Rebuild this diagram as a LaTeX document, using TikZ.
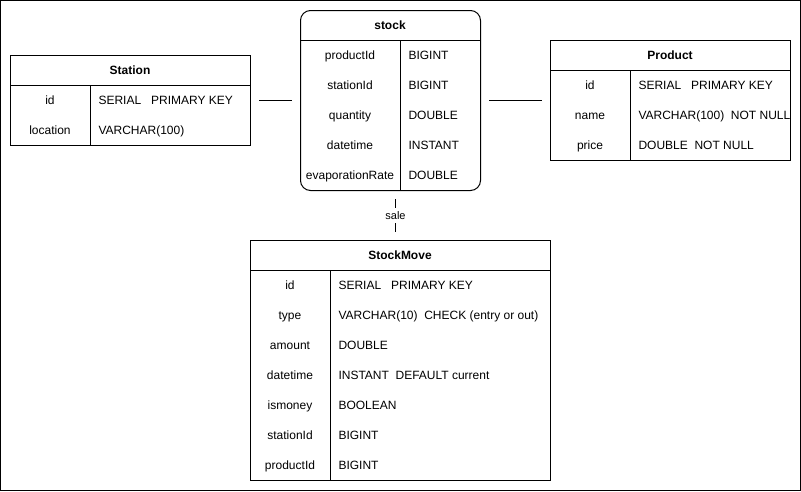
\documentclass[tikz,border=0pt]{standalone}
\usepackage{fontspec}
\setmainfont{Liberation Sans}

\begin{document}
\begin{tikzpicture}[x=1pt, y=-1pt, line width=1pt,
		tbl/.style={draw, anchor=north west, inner sep=0pt},
		hdr/.style={font=\fontsize{12}{14}\selectfont\bfseries, text height=10pt, text depth=2pt},
		fld/.style={font=\fontsize{12}{14}\selectfont, text height=10pt, text depth=2pt},
		typ/.style={fld, anchor=west, inner sep=0pt},
		link/.style={shorten <=8pt, shorten >=8pt}]
			\useasboundingbox (0,0) rectangle (801,491);
			\draw (0.5,0.5) rectangle (800.5,490.5);
			\node[tbl, minimum width=240pt, minimum height=90pt] (station) at (10,55) {};
			\draw (10,85) -- (250,85);
			\draw (90,85) -- (90,145);
			\node[hdr] (station-h) at (130,70) {Station};
			\foreach \n/\t [count=\i] in {id/SERIAL\ \ \ PRIMARY KEY, location/VARCHAR(100)} {
				\node[fld] (station-n\i) at (50,70+30*\i) {\n};
				\node[typ] (station-t\i) at (98,70+30*\i) {\t};
			}
			\node[tbl, rounded corners=10pt, minimum width=180pt, minimum height=180pt] (stock) at (300,10) {};
			\draw (300,40) -- (480,40);
			\draw (400,40) -- (400,190);
			\node[hdr] (stock-h) at (390,25) {stock};
			\foreach \n/\t [count=\i] in {productId/BIGINT, stationId/BIGINT, quantity/DOUBLE, datetime/INSTANT, evaporationRate/DOUBLE} {
				\node[fld] (stock-n\i) at (350,25+30*\i) {\n};
				\node[typ] (stock-t\i) at (408,25+30*\i) {\t};
			}
			\node[tbl, minimum width=240pt, minimum height=120pt] (product) at (550,40) {};
			\draw (550,70) -- (790,70);
			\draw (630,70) -- (630,160);
			\node[hdr] (product-h) at (670,55) {Product};
			\foreach \n/\t [count=\i] in {id/SERIAL\ \ \ PRIMARY KEY, name/VARCHAR(100)\ \ NOT NULL, price/DOUBLE\ \ NOT NULL} {
				\node[fld] (product-n\i) at (590,55+30*\i) {\n};
				\node[typ] (product-t\i) at (638,55+30*\i) {\t};
			}
			\node[tbl, minimum width=300pt, minimum height=240pt] (stockmove) at (250,240) {};
			\draw (250,270) -- (550,270);
			\draw (330,270) -- (330,480);
			\node[hdr] (stockmove-h) at (400,255) {StockMove};
			\foreach \n/\t [count=\i] in {id/SERIAL\ \ \ PRIMARY KEY, type/VARCHAR(10)\ \ CHECK (entry or out), amount/DOUBLE, datetime/INSTANT\ \ DEFAULT current, ismoney/BOOLEAN, stationId/BIGINT, productId/BIGINT} {
				\node[fld] (stockmove-n\i) at (290,255+30*\i) {\n};
				\node[typ] (stockmove-t\i) at (338,255+30*\i) {\t};
			}
			\draw[link] (station) -- (stock);
			\draw[link] (stock) -- (product);
			\draw[link] 
				([xshift=5pt]stock.south) 
				-- node[fill=white, inner sep=3pt, font=\fontsize{11}{13}\selectfont](sale){sale} 
				([xshift=-5pt]stockmove.north);
		\end{tikzpicture}
\end{document}
